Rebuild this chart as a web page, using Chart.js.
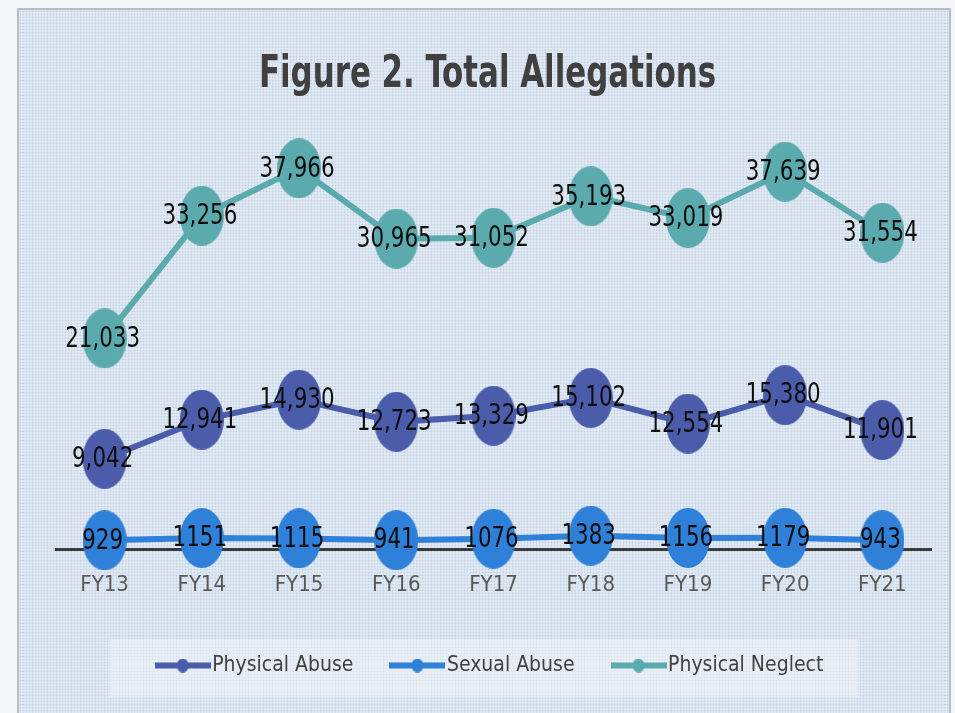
<!DOCTYPE html>
<html>
<head>
<meta charset="utf-8">
<title>Figure 2. Total Allegations</title>
<script src="https://cdn.jsdelivr.net/npm/chart.js@4.4.0/dist/chart.umd.min.js"></script>
<style>
  html, body { margin: 0; padding: 0; background: #f4f6f9; overflow: hidden; }
  #panel {
    position: absolute; left: 17px; top: 8px; width: 930px; height: 720px;
    border: 2px solid #b9bec3;
    background-color: #dfe9f3;
    background-image: radial-gradient(rgba(150, 160, 195, 0.35) 0.8px, transparent 1.1px);
    background-size: 3px 3px;
  }
  #wrap { position: absolute; left: 0; top: 0; width: 955px; height: 713px; }
</style>
</head>
<body>
<div id="panel"></div>
<div id="wrap"><canvas id="chart" width="955" height="713"></canvas></div>
<script>
// Chart data
const chartTitle = 'Figure 2. Total Allegations';
const years = ['FY13', 'FY14', 'FY15', 'FY16', 'FY17', 'FY18', 'FY19', 'FY20', 'FY21'];
const physicalAbuse = [9042, 12941, 14930, 12723, 13329, 15102, 12554, 15380, 11901];
const sexualAbuse = [929, 1151, 1115, 941, 1076, 1383, 1156, 1179, 943];
const physicalNeglect = [21033, 33256, 37966, 30965, 31052, 35193, 33019, 37639, 31554];

const FONT = '"Liberation Sans Narrow", "DejaVu Sans Condensed", "Arial Narrow", sans-serif';
const COLORS = { abuse: '#4b5cab', sexual: '#2f80d8', neglect: '#5aaaae' };

// Oval marker drawn as an image so it can be taller than wide
function ovalMarker(color, w, h) {
  const c = document.createElement('canvas');
  c.width = w;
  c.height = h;
  const g = c.getContext('2d');
  g.fillStyle = color;
  g.beginPath();
  g.ellipse(w / 2, h / 2, w / 2, h / 2, 0, 0, Math.PI * 2);
  g.fill();
  return c;
}

// Legend symbol: line with a small marker in the middle
function legendMarker(color) {
  const c = document.createElement('canvas');
  c.width = 56;
  c.height = 14;
  const g = c.getContext('2d');
  g.fillStyle = color;
  g.fillRect(0, 4, 56, 6);
  g.beginPath();
  g.ellipse(28, 7, 6, 7, 0, 0, Math.PI * 2);
  g.fill();
  return c;
}

// draw text squeezed horizontally (narrow font look)
function narrowText(ctx, txt, x, y, sx) {
  ctx.save();
  ctx.translate(x, y);
  ctx.scale(sx, 1);
  ctx.fillText(txt, 0, 0);
  ctx.restore();
}

// Value labels on top of every point
const valueLabels = {
  id: 'valueLabels',
  afterDatasetsDraw(chart) {
    const ctx = chart.ctx;
    ctx.save();
    ctx.font = '28px ' + FONT;
    ctx.fillStyle = '#0d0d0d';
    ctx.textAlign = 'center';
    ctx.textBaseline = 'middle';
    chart.data.datasets.forEach((ds, i) => {
      chart.getDatasetMeta(i).data.forEach((pt, j) => {
        const v = ds.data[j];
        const txt = ds.useComma ? v.toLocaleString('en-US') : String(v);
        narrowText(ctx, txt, pt.x - 2, pt.y + 1, 0.85);
      });
    });
    ctx.restore();
  }
};

// Title and the light box behind the legend
const decorations = {
  id: 'decorations',
  beforeDraw(chart) {
    const lg = chart.legend;
    if (!lg) return;
    const ctx = chart.ctx;
    ctx.save();
    ctx.fillStyle = 'rgba(236, 241, 247, 0.6)';
    ctx.fillRect(lg.left + 54, lg.top + 29, lg.right - lg.left - 127, 58);
    ctx.restore();
  },
  afterDraw(chart) {
    const ctx = chart.ctx;
    const area = chart.chartArea;
    ctx.save();
    ctx.font = 'bold 44px ' + FONT;
    ctx.fillStyle = '#404040';
    ctx.textAlign = 'center';
    ctx.textBaseline = 'middle';
    narrowText(ctx, chartTitle, (area.left + area.right) / 2 - 6, area.top - 72, 0.78);
    ctx.restore();
  }
};

const markers = [
  legendMarker(COLORS.abuse),
  legendMarker(COLORS.sexual),
  legendMarker(COLORS.neglect)
];

new Chart(document.getElementById('chart'), {
  type: 'line',
  data: {
    labels: years,
    datasets: [
      {
        label: 'Physical Abuse',
        data: physicalAbuse,
        useComma: true,
        borderColor: COLORS.abuse,
        backgroundColor: COLORS.abuse,
        borderWidth: 6,
        clip: false,
        pointStyle: ovalMarker(COLORS.abuse, 44, 60)
      },
      {
        label: 'Sexual Abuse',
        data: sexualAbuse,
        useComma: false,
        borderColor: COLORS.sexual,
        backgroundColor: COLORS.sexual,
        borderWidth: 6,
        clip: false,
        pointStyle: ovalMarker(COLORS.sexual, 44, 60)
      },
      {
        label: 'Physical Neglect',
        data: physicalNeglect,
        useComma: true,
        borderColor: COLORS.neglect,
        backgroundColor: COLORS.neglect,
        borderWidth: 6,
        clip: false,
        pointStyle: ovalMarker(COLORS.neglect, 44, 60)
      }
    ]
  },
  options: {
    responsive: false,
    animation: false,
    events: [],
    layout: { padding: { top: 148, left: 56, right: 24, bottom: 27 } },
    scales: {
      x: {
        offset: true,
        grid: { display: false, drawTicks: false },
        border: { display: true, color: '#3a3a3a', width: 3 },
        ticks: { color: '#595959', padding: 22, font: { family: FONT, size: 22 } },
        afterFit(scale) { scale.height -= 10; }
      },
      y: { display: false, min: 0, max: 40000 }
    },
    plugins: {
      title: { display: false },
      legend: {
        position: 'bottom',
        labels: {
          usePointStyle: true,
          pointStyleWidth: 38,
          padding: 45,
          color: '#404040',
          font: { family: FONT, size: 21 },
          generateLabels(chart) {
            return chart.data.datasets.map((ds, i) => ({
              text: ds.label,
              fillStyle: ds.borderColor,
              strokeStyle: ds.borderColor,
              lineWidth: 0,
              pointStyle: markers[i],
              fontColor: '#404040',
              hidden: false,
              datasetIndex: i
            }));
          }
        }
      },
      tooltip: { enabled: false }
    }
  },
  plugins: [decorations, valueLabels]
});
</script>
</body>
</html>
